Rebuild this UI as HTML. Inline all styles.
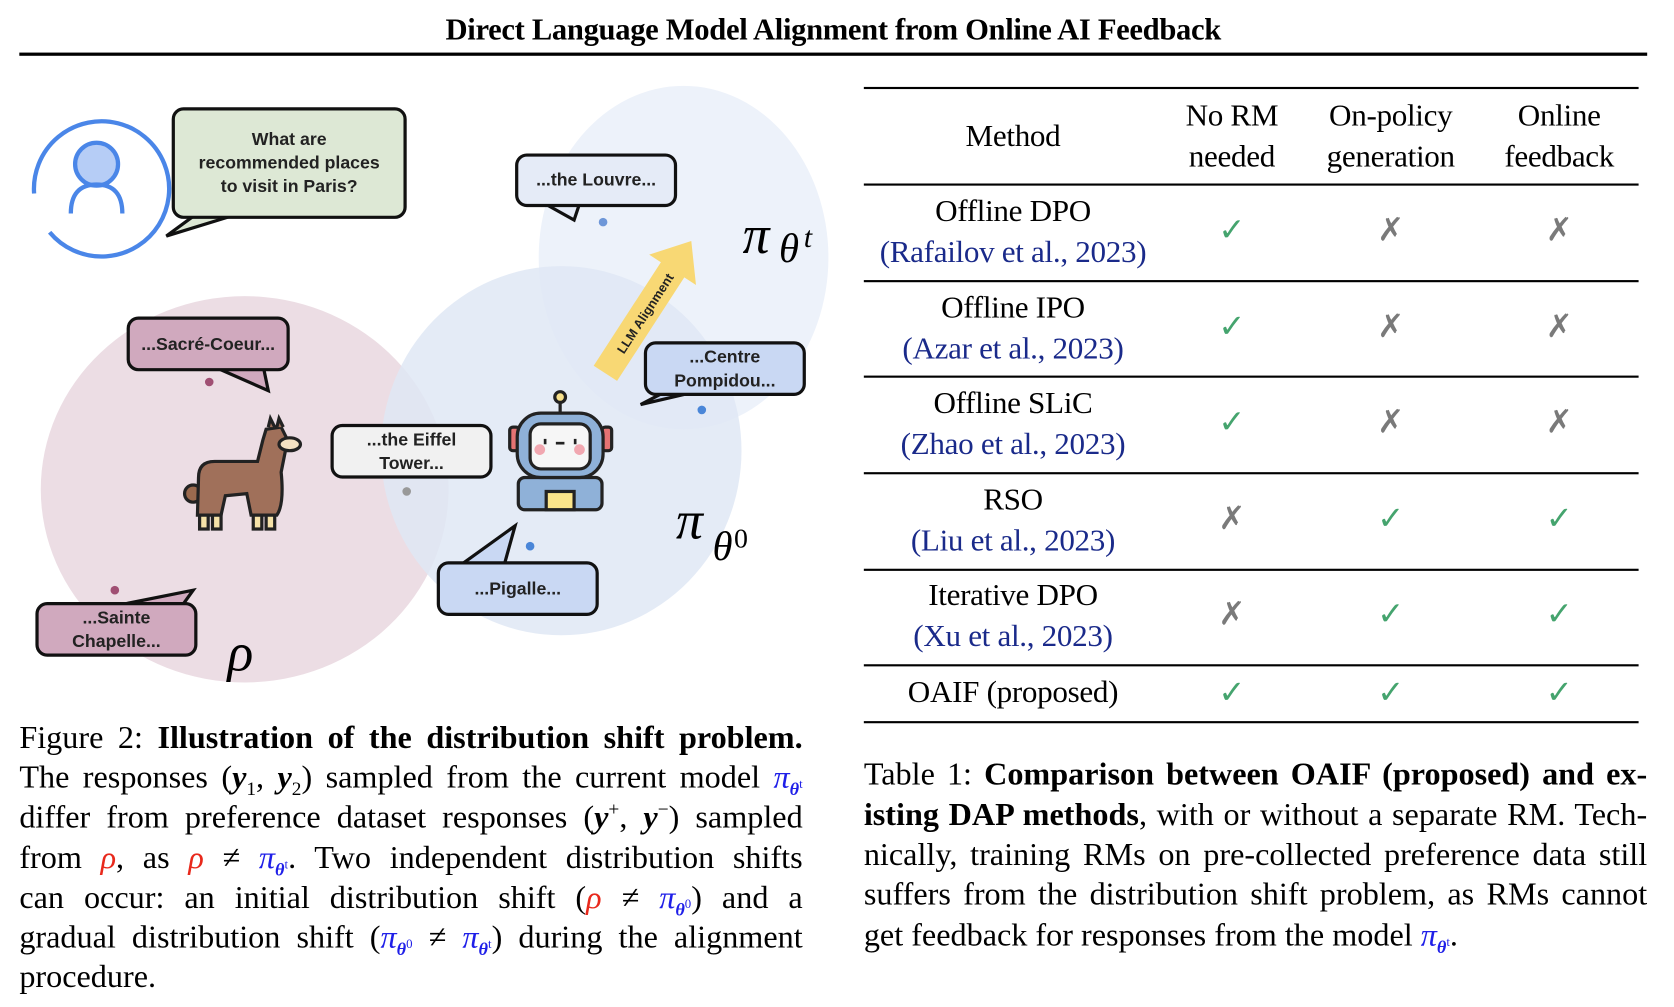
<!DOCTYPE html>
<html><head><meta charset="utf-8"><style>
html,body{margin:0;padding:0;background:#fff;width:1674px;height:1006px;overflow:hidden}
#w{position:absolute;left:0;top:0;width:1560px;height:938px;transform:scale(1.07308);transform-origin:0 0;font-family:"Liberation Serif",serif;color:#000}
.a{position:absolute}
.cap{position:absolute;left:18px;width:730px;font-size:30px;line-height:30px;text-align:justify;text-align-last:justify;white-space:nowrap}
.cap2{position:absolute;left:805px;width:730px;font-size:30px;line-height:30px;text-align:justify;text-align-last:justify;white-space:nowrap}
.b{color:#1f1fe8}.r{color:#e8291c}
.bub{position:absolute;border:3px solid #111;border-radius:11px;font-family:"Liberation Sans",sans-serif;font-weight:bold;font-size:16.5px;text-align:center;display:flex;align-items:center;justify-content:center;line-height:22px;box-sizing:border-box;color:#222}
.hl{position:absolute;left:805px;width:722px;background:#000}
.t{position:absolute;font-size:29px;text-align:center;width:320px;line-height:38px;letter-spacing:-0.3px}
.cite{color:#1a2a8a}
.ck{position:absolute;font-family:"DejaVu Sans",sans-serif;font-size:30px;width:60px;text-align:center;font-weight:bold}
.g{color:#45a46e}.x{color:#7a7a7a}
sub,sup{line-height:0}
</style></head><body><div id="w">
<div class="a" style="left:0;top:13px;width:1553px;text-align:center;font-weight:bold;font-size:28.5px;letter-spacing:-0.3px">Direct Language Model Alignment from Online AI Feedback</div>
<div class="a" style="left:18px;top:49px;width:1517px;height:3px;background:#000"></div>

<svg class="a" style="left:0;top:60px" width="800" height="600" viewBox="0 60 800 600">
<ellipse cx="637" cy="240" rx="135" ry="160" fill="#edf2fa"/>
<ellipse cx="228" cy="456" rx="190" ry="180" fill="#ecdde4"/>
<ellipse cx="523" cy="420" rx="168" ry="172" fill="#dfe7f5" fill-opacity="0.85"/>
<path d="M30 170 A63 63 0 1 1 38 208" fill="none" stroke="#4a86e8" stroke-width="4" transform="rotate(-10 90 165)"/>
<circle cx="90" cy="153" r="20" fill="#b6cdf6" stroke="#4a86e8" stroke-width="4"/>
<path d="M66 199 Q66 172 90 172 Q114 172 114 199" fill="none" stroke="#4a86e8" stroke-width="4"/>
<path d="M185 198 L155 220 L220 200" fill="#dde8d5" stroke="#111" stroke-width="3"/>
<path d="M508 190 L535 205 L540 190" fill="#e5ebf7" stroke="#111" stroke-width="3"/>
<path d="M200 342 L250 364 L245 340" fill="#d0a9be" stroke="#111" stroke-width="3"/>
<path d="M620 365 L597 377 L640 367" fill="#c9d8f3" stroke="#111" stroke-width="3"/>
<path d="M430 526 L480 490 L470 526" fill="#c9d8f3" stroke="#111" stroke-width="3"/>
<path d="M110 564 L180 550 L170 564" fill="#d0a9be" stroke="#111" stroke-width="3"/>
<circle cx="562" cy="207" r="4" fill="#6e97d8"/>
<circle cx="195" cy="356" r="4" fill="#a04f73"/>
<circle cx="654" cy="382" r="4" fill="#4a86d8"/>
<circle cx="379" cy="458" r="4" fill="#999"/>
<circle cx="494" cy="509" r="4" fill="#4a86d8"/>
<circle cx="107" cy="550" r="4" fill="#a04f73"/>
<g transform="translate(605 285) rotate(-57)">
<polygon points="-75,-13 40,-13 40,-26 72,0 40,26 40,13 -75,13" fill="#f8d874"/>
<text x="-8" y="5" text-anchor="middle" font-family="Liberation Sans,sans-serif" font-size="12" font-weight="bold" fill="#222">LLM Alignment</text>
</g>
<g stroke="#222" stroke-width="3">
<rect x="186" y="478" width="8" height="15" fill="#f5e2a8"/><rect x="198" y="478" width="8" height="15" fill="#f5e2a8"/>
<rect x="236" y="478" width="8" height="15" fill="#f5e2a8"/><rect x="248" y="478" width="8" height="15" fill="#f5e2a8"/>
<circle cx="180" cy="460" r="8" fill="#9b6a4e"/>
<path d="M185 445 Q185 430 200 430 L240 430 L245 410 L248 400 L262 398 L268 410 L262 440 Q265 470 258 480 L234 480 L230 460 L210 462 L206 480 L184 480 Z" fill="#a0705a"/>
<path d="M250 398 L252 390 L256 398 M258 398 L260 390 L264 398" fill="#a0705a"/>
<ellipse cx="270" cy="414" rx="10" ry="6" fill="#f5e2c2"/>
</g>
<g stroke="#222" stroke-width="3">
<line x1="522" y1="376" x2="522" y2="388"/><circle cx="522" cy="370" r="5" fill="#f8e08a"/>
<rect x="475" y="398" width="9" height="22" rx="3" fill="#e57373"/><rect x="561" y="398" width="9" height="22" rx="3" fill="#e57373"/>
<rect x="483" y="445" width="78" height="30" rx="6" fill="#8fb1d8"/>
<rect x="509" y="458" width="26" height="17" fill="#fbe58a"/>
<rect x="482" y="385" width="80" height="60" rx="22" fill="#8fb1d8"/>
<rect x="494" y="395" width="56" height="42" rx="10" fill="#f6f6f6"/>
</g>
<circle cx="503" cy="419" r="5" fill="#f1a7b0"/><circle cx="540" cy="419" r="5" fill="#f1a7b0"/>
<line x1="508" y1="409" x2="508" y2="414" stroke="#222" stroke-width="2.5"/><line x1="536" y1="409" x2="536" y2="414" stroke="#222" stroke-width="2.5"/><line x1="518" y1="413" x2="526" y2="413" stroke="#222" stroke-width="2.5"/>
<text x="692" y="236" font-family="Liberation Serif,serif" font-style="italic" font-size="50">π</text>
<text x="726" y="244" font-family="Liberation Serif,serif" font-style="italic" font-size="38">θ</text>
<text x="749" y="230" font-family="Liberation Serif,serif" font-style="italic" font-size="28">t</text>
<text x="630" y="502" font-family="Liberation Serif,serif" font-style="italic" font-size="50">π</text>
<text x="664" y="522" font-family="Liberation Serif,serif" font-style="italic" font-size="38">θ</text>
<text x="684" y="510" font-family="Liberation Serif,serif" font-size="26">0</text>
<text x="212" y="625" font-family="Liberation Serif,serif" font-style="italic" font-size="50">ρ</text>
</svg>

<div class="bub" style="left:160px;top:100px;width:219px;height:104px;background:#dde8d5">What are<br>recommended places<br>to visit in Paris?</div>
<div class="bub" style="left:480px;top:143px;width:151px;height:50px;background:#e5ebf7">...the Louvre...</div>
<div class="bub" style="left:118px;top:295px;width:152px;height:51px;background:#d0a9be">...Sacré-Coeur...</div>
<div class="bub" style="left:600px;top:318px;width:151px;height:51px;background:#c9d8f3">...Centre<br>Pompidou...</div>
<div class="bub" style="left:308px;top:395px;width:151px;height:51px;background:#f1f1f1">...the Eiffel<br>Tower...</div>
<div class="bub" style="left:407px;top:523px;width:151px;height:51px;background:#c9d8f3">...Pigalle...</div>
<div class="bub" style="left:33px;top:561px;width:151px;height:51px;background:#d0a9be">...Sainte<br>Chapelle...</div>

<div class="cap" style="top:673px">Figure 2: <b>Illustration of the distribution shift problem.</b></div>
<div class="cap" style="top:710px">The responses (<i><b>y</b></i><sub style="font-size:18px">1</sub>, <i><b>y</b></i><sub style="font-size:18px">2</sub>) sampled from the current model <span class="b"><i>π</i><sub style="font-size:17px"><b><i>θ</i></b><sup style="font-size:12px">t</sup></sub></span></div>
<div class="cap" style="top:747px">differ from preference dataset responses (<i><b>y</b></i><sup style="font-size:18px">+</sup>, <i><b>y</b></i><sup style="font-size:18px">−</sup>) sampled</div>
<div class="cap" style="top:785px">from <i class="r">ρ</i>, as <i class="r">ρ</i> ≠ <span class="b"><i>π</i><sub style="font-size:17px"><b><i>θ</i></b><sup style="font-size:12px">t</sup></sub></span>. Two independent distribution shifts</div>
<div class="cap" style="top:822px">can occur: an initial distribution shift (<i class="r">ρ</i> ≠ <span class="b"><i>π</i><sub style="font-size:17px"><b><i>θ</i></b><sup style="font-size:12px">0</sup></sub></span>) and a</div>
<div class="cap" style="top:859px">gradual distribution shift (<span class="b"><i>π</i><sub style="font-size:17px"><b><i>θ</i></b><sup style="font-size:12px">0</sup></sub></span> ≠ <span class="b"><i>π</i><sub style="font-size:17px"><b><i>θ</i></b><sup style="font-size:12px">t</sup></sub></span>) during the alignment</div>
<div class="a" style="left:18px;top:896px;font-size:30px;line-height:30px">procedure.</div>

<div class="hl" style="top:81px;height:2px"></div>
<div class="hl" style="top:171px;height:1.5px"></div>
<div class="hl" style="top:261px;height:1.5px"></div>
<div class="hl" style="top:350px;height:1.5px"></div>
<div class="hl" style="top:440px;height:1.5px"></div>
<div class="hl" style="top:530px;height:1.5px"></div>
<div class="hl" style="top:619px;height:1.5px"></div>
<div class="hl" style="top:672px;height:2px"></div>
<div class="t" style="left:784px;top:108px">Method</div>
<div class="t" style="left:988px;top:89px">No RM<br>needed</div>
<div class="t" style="left:1136px;top:89px">On-policy<br>generation</div>
<div class="t" style="left:1293px;top:89px">Online<br>feedback</div>

<div class="t" style="left:784px;top:178px">Offline DPO<br><span class="cite">(Rafailov et al., 2023)</span></div>
<div class="t" style="left:784px;top:268px">Offline IPO<br><span class="cite">(Azar et al., 2023)</span></div>
<div class="t" style="left:784px;top:357px">Offline SLiC<br><span class="cite">(Zhao et al., 2023)</span></div>
<div class="t" style="left:784px;top:447px">RSO<br><span class="cite">(Liu et al., 2023)</span></div>
<div class="t" style="left:784px;top:536px">Iterative DPO<br><span class="cite">(Xu et al., 2023)</span></div>
<div class="t" style="left:784px;top:626px">OAIF (proposed)</div>

<div class="ck g" style="left:1118px;top:197px">✓</div><div class="ck x" style="left:1266px;top:197px">✗</div><div class="ck x" style="left:1423px;top:197px">✗</div>
<div class="ck g" style="left:1118px;top:287px">✓</div><div class="ck x" style="left:1266px;top:287px">✗</div><div class="ck x" style="left:1423px;top:287px">✗</div>
<div class="ck g" style="left:1118px;top:376px">✓</div><div class="ck x" style="left:1266px;top:376px">✗</div><div class="ck x" style="left:1423px;top:376px">✗</div>
<div class="ck x" style="left:1118px;top:466px">✗</div><div class="ck g" style="left:1266px;top:466px">✓</div><div class="ck g" style="left:1423px;top:466px">✓</div>
<div class="ck x" style="left:1118px;top:555px">✗</div><div class="ck g" style="left:1266px;top:555px">✓</div><div class="ck g" style="left:1423px;top:555px">✓</div>
<div class="ck g" style="left:1118px;top:628px">✓</div><div class="ck g" style="left:1266px;top:628px">✓</div><div class="ck g" style="left:1423px;top:628px">✓</div>

<div class="cap2" style="top:707px">Table 1: <b>Comparison between OAIF (proposed) and ex-</b></div>
<div class="cap2" style="top:745px"><b>isting DAP methods</b>, with or without a separate RM. Tech-</div>
<div class="cap2" style="top:782px">nically, training RMs on pre-collected preference data still</div>
<div class="cap2" style="top:819px">suffers from the distribution shift problem, as RMs cannot</div>
<div class="a" style="left:805px;top:857px;font-size:30px;line-height:30px;white-space:nowrap">get feedback for responses from the model <span class="b"><i>π</i><sub style="font-size:17px"><b><i>θ</i></b><sup style="font-size:12px">t</sup></sub></span>.</div>
</div></body></html>
